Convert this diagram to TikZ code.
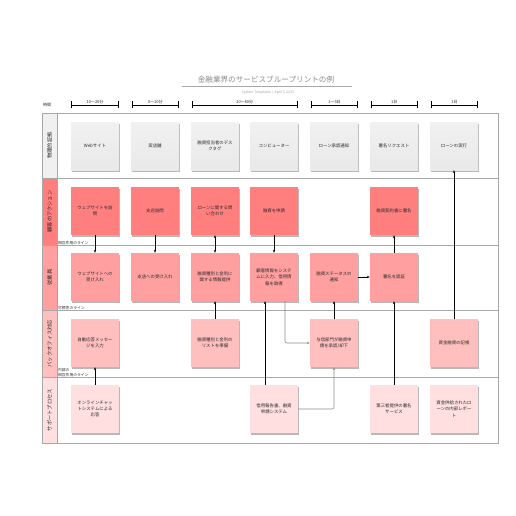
\documentclass[tikz,border=0pt]{standalone}
\usepackage{fontspec}
\setmainfont{Noto Sans CJK JP}
\usetikzlibrary{shadows,arrows.meta}
\definecolor{laneAtop}{HTML}{F1F1F1}
\definecolor{laneAbot}{HTML}{E9E9E9}
\definecolor{laneAlab}{HTML}{F0F0F0}
\definecolor{laneB}{HTML}{FF7F7F}
\definecolor{laneC}{HTML}{FF9F9F}
\definecolor{laneD}{HTML}{FFBFBF}
\definecolor{laneE}{HTML}{FFDFDF}
\definecolor{framegray}{HTML}{A8A8A8}
\definecolor{titlegray}{HTML}{8A8A8A}
\definecolor{txt}{HTML}{2A2A2A}
\definecolor{linkgray}{HTML}{8C8C8C}
\begin{document}
\begin{tikzpicture}[x=1pt,y=-1pt,
  card/.style={minimum width=48pt,minimum height=48pt,inner sep=0pt,align=center,
    text=txt,font=\fontsize{4.4}{6.4}\selectfont,
    drop shadow={shadow xshift=1.2pt,shadow yshift=-2.4pt,opacity=0.28,fill=black}},
  lanelab/.style={rotate=90,font=\fontsize{5.3}{6}\selectfont,text=txt,inner sep=0pt},
  linelab/.style={anchor=south west,font=\fontsize{3.8}{4.4}\selectfont,text=txt,inner sep=0.4pt,align=left},
  timelab/.style={font=\fontsize{4}{5}\selectfont,text=txt,inner sep=0.5pt},
  bracket/.style={line width=0.6pt,{Bar[width=7pt]}-{Bar[width=7pt]}},
  frameline/.style={draw=framegray,line width=0.7pt},
  flow/.style={line width=0.6pt,-{Stealth[length=3pt,width=2.4pt]}},
  flowgray/.style={flow,draw=linkgray,rounded corners=2pt}]
\useasboundingbox (0,0) rectangle (516,516);

% title
\node[font=\fontsize{7.6}{9}\selectfont,text=titlegray,inner sep=0pt] (title) at (266,80) {金融業界のサービスブループリントの例};
\draw[draw=framegray,line width=0.6pt] (182,86.5) -- (352,86.5);
\node[font=\fontsize{3.4}{4}\selectfont,text=titlegray!80,inner sep=0pt] (sub) at (268,92.5) {System Templates \ \textbar\ \ April 3, 2025};

% time row
\node[timelab] (time) at (47,104.5) {時間};
\coordinate (b1l) at (71,105); \coordinate (b1r) at (119,105);
\coordinate (b2l) at (131.5,105); \coordinate (b2r) at (179,105);
\coordinate (b3l) at (191.5,105); \coordinate (b3r) at (298,105);
\coordinate (b4l) at (311,105); \coordinate (b4r) at (358,105);
\coordinate (b5l) at (370.5,105); \coordinate (b5r) at (418,105);
\coordinate (b6l) at (431,105); \coordinate (b6r) at (478,105);
\draw[bracket] (b1l) -- node[timelab,anchor=south] {10〜20分} (b1r);
\draw[bracket] (b2l) -- node[timelab,anchor=south] {0〜10分} (b2r);
\draw[bracket] (b3l) -- node[timelab,anchor=south] {20〜60分} (b3r);
\draw[bracket] (b4l) -- node[timelab,anchor=south] {1〜3日} (b4r);
\draw[bracket] (b5l) -- node[timelab,anchor=south] {1日} (b5r);
\draw[bracket] (b6l) -- node[timelab,anchor=south] {1日} (b6r);

% lane label column
\fill[laneAlab] (42,113) rectangle (57,178);
\fill[laneB] (42,178) rectangle (57,245);
\fill[laneC] (42,245) rectangle (57,310);
\fill[laneD] (42,310) rectangle (57,377);
\fill[laneE] (42,377) rectangle (57,443);
\draw[frameline] (42,113) rectangle (498,443);
\draw[frameline] (57,113) -- (57,443);
\foreach \yy in {178,245,310,377} \draw[frameline] (42,\yy) -- (498,\yy);

\node[lanelab] (L1) at (49.5,145.5) {物理的証拠};
\node[lanelab] (L2) at (49.5,211.5) {顧客のアクション};
\node[lanelab] (L3) at (49.5,277.5) {従業員};
\node[lanelab] (L4) at (49.5,343.5) {バックオフィス対応};
\node[lanelab] (L5) at (49.5,410) {サポートプロセス};

\node[linelab] (ll1) at (57.5,245) {相互作用のライン};
\node[linelab] (ll2) at (57.5,310) {可視性のライン};
\node[linelab] (ll3) at (57.5,377) {内部の\\相互作用のライン};

% lane 1: physical evidence
\begin{scope}[every node/.append style={card,top color=laneAtop,bottom color=laneAbot}]
\node (p1) at (95,146) {Webサイト};
\node (p2) at (155,146) {実店舗};
\node (p3) at (215,146) {融資担当者のデス\\クタグ};
\node (p4) at (274,146) {コンピューター};
\node (p5) at (334,146) {ローン承認通知};
\node (p6) at (394,146) {署名リクエスト};
\node (p7) at (454,146) {ローンの実行};
\end{scope}

% lane 2: customer actions
\begin{scope}[every node/.append style={card,fill=laneB}]
\node (c1) at (95,211) {ウェブサイトを訪\\問};
\node (c2) at (155,211) {支店訪問};
\node (c3) at (215,211) {ローンに関する問\\い合わせ};
\node (c4) at (274,211) {融資を申請};
\node (c6) at (394,211) {融資契約書に署名};
\end{scope}

% lane 3: employees
\begin{scope}[every node/.append style={card,fill=laneC}]
\node (e1) at (95,277) {ウェブサイトへの\\受け入れ};
\node (e2) at (155,277) {支店への受け入れ};
\node (e3) at (215,277) {融資種別と金利に\\関する情報提供};
\node (e4) at (274,277) {顧客情報をシステ\\ムに入力、信用情\\報を取得};
\node (e5) at (334,277) {融資ステータスの\\通知};
\node (e6) at (394,277) {署名を認証};
\end{scope}

% lane 4: back office
\begin{scope}[every node/.append style={card,fill=laneD}]
\node (g1) at (95,343) {自動応答メッセー\\ジを入力};
\node (g3) at (215,343) {融資種別と金利の\\リストを準備};
\node (g5) at (334,343) {与信部門が融資申\\請を承認/却下};
\node (g7) at (454,343) {資金融資の記帳};
\end{scope}

% lane 5: support processes
\begin{scope}[every node/.append style={card,fill=laneE}]
\node (s1) at (95,409) {オンラインチャッ\\トシステムによる\\応答};
\node (s4) at (274,409) {信用報告書、融資\\申請システム};
\node (s6) at (394,409) {第三者提供の署名\\サービス};
\node (s7) at (454,409) {資金供給されたロ\\ーンの内部レポー\\ト};
\end{scope}

% connectors
\draw[flow] (c1.south) -- (e1.north);
\draw[flow] (c2.south) -- (e2.north);
\draw[flow,{Stealth[length=3pt,width=2.4pt]}-{Stealth[length=3pt,width=2.4pt]}] (c3.south) -- (e3.north);
\draw[flow] (c4.south) -- (e4.north);
\draw[flow] (g3.north) -- (e3.south);
\draw[flow] ([xshift=-9pt]s4.north) -- ([xshift=-9pt]e4.south);
\draw[flowgray] ([xshift=11pt]e4.south) |- (g5.west);
\draw[flowgray] (s4.east) -| (g5.south);
\draw[flow] (g5.north) -- (e5.south);
\draw[flow] (e5.east) -- (e6.west);
\draw[flow] (e6.north) -- (c6.south);
\draw[flow] (s6.north) -- (e6.south);
\draw[flow] (g7.north) -- (p7.south);
\draw[flow] (s1.north) -- (g1.south);
\end{tikzpicture}
\end{document}
